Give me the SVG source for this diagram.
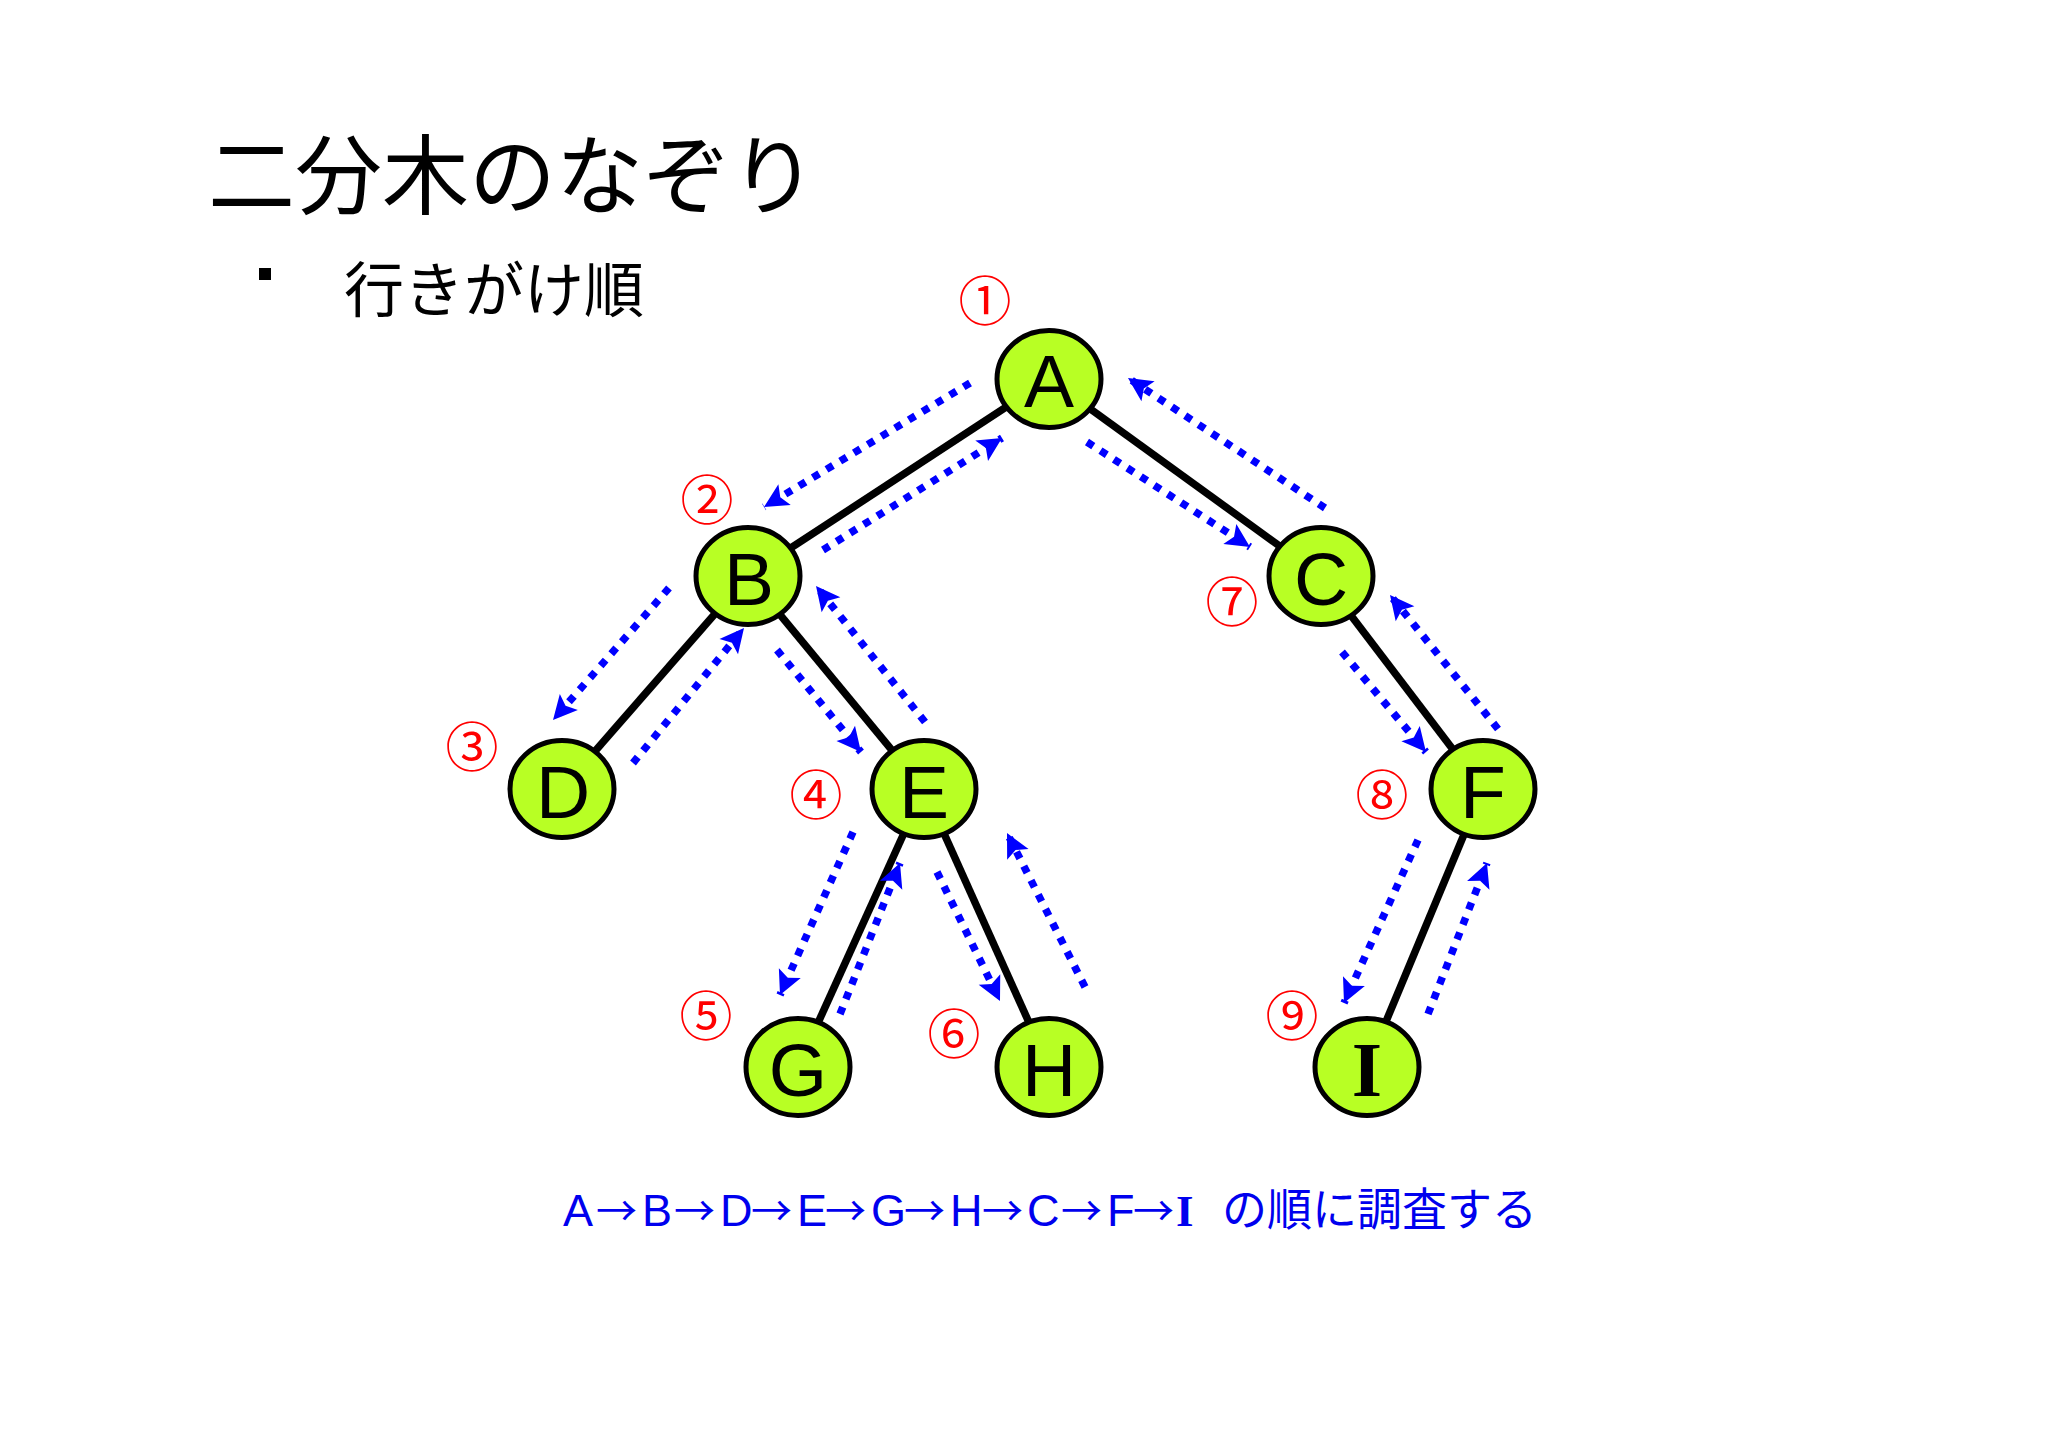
<svg xmlns="http://www.w3.org/2000/svg" width="2048" height="1448" viewBox="0 0 2048 1448">
<defs>
<style>
.edge{stroke:#000;stroke-width:7.5;fill:none}
.trav{stroke:#0000ff;stroke-width:7.5;stroke-dasharray:7.5 8.5;fill:none;marker-end:url(#ah)}
.node ellipse{fill:#b8ff24;stroke:#000;stroke-width:5}
.lbl{font-family:"Liberation Sans",Arial,sans-serif;font-size:75px;fill:#000;text-anchor:middle}
.num{font-family:"Noto Sans CJK JP",sans-serif;font-size:53px;fill:#ff0000;text-anchor:middle}
.jp{font-family:"Noto Sans CJK JP",sans-serif;fill:#000}
.arr{font-family:"Noto Sans CJK JP",sans-serif;font-size:41px}
</style>
<marker id="ah" markerUnits="userSpaceOnUse" markerWidth="32" markerHeight="32" viewBox="-2 -15 32 30" refX="24" refY="0" orient="auto">
<path d="M0,-12 L24,0 L0,12 L5,0 Z" fill="#0000ff"/>
</marker>
</defs>
<rect width="2048" height="1448" fill="#fff"/>
<text class="jp" x="208" y="208" font-size="87">二分木のなぞり</text>
<rect x="259" y="268" width="12" height="12" fill="#000"/>
<text class="jp" x="344" y="312" font-size="60">行きがけ順</text>

<g id="edges">
<line class="edge" x1="1049" y1="379" x2="748" y2="576"/>
<line class="edge" x1="1049" y1="379" x2="1321" y2="576"/>
<line class="edge" x1="748" y1="576" x2="562" y2="789"/>
<line class="edge" x1="748" y1="576" x2="924" y2="789"/>
<line class="edge" x1="1321" y1="576" x2="1483" y2="789"/>
<line class="edge" x1="924" y1="789" x2="798" y2="1067"/>
<line class="edge" x1="924" y1="789" x2="1049" y2="1067"/>
<line class="edge" x1="1483" y1="789" x2="1367" y2="1067"/>
</g>

<g id="traversal">
<line class="trav" x1="970" y1="383" x2="764" y2="507"/>
<line class="trav" x1="823" y1="550" x2="1002" y2="438"/>
<line class="trav" x1="669" y1="588" x2="553" y2="720"/>
<line class="trav" x1="633" y1="763" x2="744" y2="628"/>
<line class="trav" x1="777" y1="650" x2="861" y2="752"/>
<line class="trav" x1="925" y1="722" x2="816" y2="586"/>
<line class="trav" x1="853" y1="832" x2="780" y2="995"/>
<line class="trav" x1="840" y1="1014" x2="900" y2="863"/>
<line class="trav" x1="937" y1="872" x2="1000" y2="1001"/>
<line class="trav" x1="1085" y1="987" x2="1007" y2="833"/>
<line class="trav" x1="1087" y1="442" x2="1250" y2="547"/>
<line class="trav" x1="1325" y1="508" x2="1128" y2="378"/>
<line class="trav" x1="1342" y1="652" x2="1426" y2="752"/>
<line class="trav" x1="1498" y1="729" x2="1390" y2="595"/>
<line class="trav" x1="1418" y1="840" x2="1344" y2="1003"/>
<line class="trav" x1="1428" y1="1014" x2="1487" y2="863"/>
</g>

<g id="nA" class="node"><ellipse cx="1049" cy="379" rx="52" ry="48.5"/><text class="lbl" x="1049" y="407">A</text></g>
<g id="nB" class="node"><ellipse cx="748" cy="576" rx="52" ry="48.5"/><text class="lbl" x="749" y="605">B</text></g>
<g id="nC" class="node"><ellipse cx="1321" cy="576" rx="52" ry="48.5"/><text class="lbl" x="1321" y="605">C</text></g>
<g id="nD" class="node"><ellipse cx="562" cy="789" rx="52" ry="48.5"/><text class="lbl" x="563" y="818">D</text></g>
<g id="nE" class="node"><ellipse cx="924" cy="789" rx="52" ry="48.5"/><text class="lbl" x="924" y="818">E</text></g>
<g id="nF" class="node"><ellipse cx="1483" cy="789" rx="52" ry="48.5"/><text class="lbl" x="1483" y="818">F</text></g>
<g id="nG" class="node"><ellipse cx="798" cy="1067" rx="52" ry="48.5"/><text class="lbl" x="798" y="1096">G</text></g>
<g id="nH" class="node"><ellipse cx="1049" cy="1067" rx="52" ry="48.5"/><text class="lbl" x="1049" y="1096">H</text></g>
<g id="nI" class="node"><ellipse cx="1367" cy="1067" rx="52" ry="48.5"/><text class="lbl" x="1367" y="1096" style="font-family:'Liberation Serif',serif;font-weight:bold;font-size:78px">I</text></g>

<g id="order">
<text class="num" x="985" y="321">①</text>
<text class="num" x="707" y="520">②</text>
<text class="num" x="472" y="767">③</text>
<text class="num" x="816" y="815">④</text>
<text class="num" x="706" y="1036">⑤</text>
<text class="num" x="954" y="1054">⑥</text>
<text class="num" x="1232" y="622">⑦</text>
<text class="num" x="1382" y="815">⑧</text>
<text class="num" x="1292" y="1036">⑨</text>
</g>

<g id="caption" fill="#0000ee" font-size="45">
<text y="1226" font-family="'Liberation Sans',sans-serif"><tspan x="563">A</tspan><tspan class="arr" x="596">→</tspan><tspan x="642">B</tspan><tspan class="arr" x="674">→</tspan><tspan x="720">D</tspan><tspan class="arr" x="751">→</tspan><tspan x="797">E</tspan><tspan class="arr" x="825">→</tspan><tspan x="871">G</tspan><tspan class="arr" x="904">→</tspan><tspan x="950">H</tspan><tspan class="arr" x="982">→</tspan><tspan x="1027">C</tspan><tspan class="arr" x="1061">→</tspan><tspan x="1107">F</tspan><tspan class="arr" x="1133">→</tspan></text>
<text y="1226" x="1176" font-family="'Liberation Serif',serif" font-weight="bold">I</text>
<text y="1226" x="1222" font-family="'Noto Sans CJK JP',sans-serif">の順に調査する</text>
</g>
</svg>
